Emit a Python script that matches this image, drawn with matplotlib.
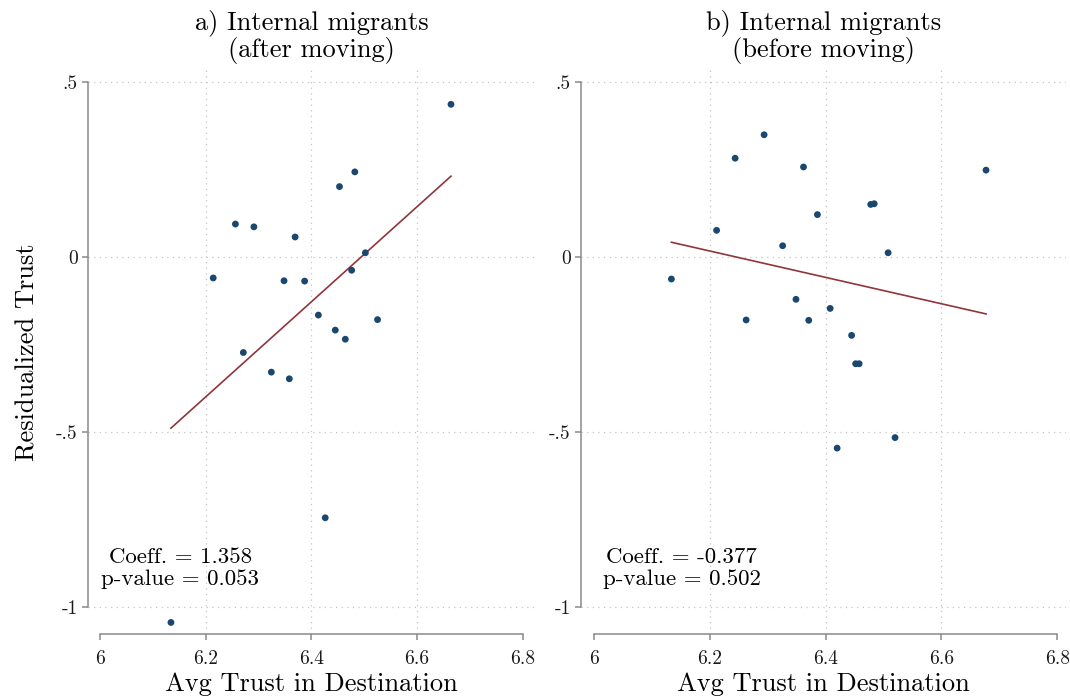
import numpy as np
import matplotlib
matplotlib.use("Agg")
import matplotlib.pyplot as plt

plt.rcParams['font.family'] = 'serif'
plt.rcParams['font.serif'] = ['cmr10', 'DejaVu Serif']
plt.rcParams['mathtext.fontset'] = 'cm'
plt.rcParams['axes.unicode_minus'] = False

# panel a) internal migrants, after moving
trust_after = [6.664, 6.482, 6.453, 6.256, 6.291, 6.369, 6.502, 6.214, 6.348, 6.387,
               6.476, 6.413, 6.525, 6.445, 6.464, 6.271, 6.324, 6.358, 6.426, 6.134]
resid_after = [0.435, 0.242, 0.200, 0.093, 0.085, 0.056, 0.011, -0.061, -0.069, -0.070,
               -0.039, -0.167, -0.180, -0.210, -0.236, -0.274, -0.330, -0.349, -0.746, -1.045]

# panel b) internal migrants, before moving
trust_before = [6.294, 6.244, 6.362, 6.677, 6.478, 6.484, 6.386, 6.212, 6.326, 6.508,
                6.134, 6.349, 6.408, 6.263, 6.371, 6.445, 6.452, 6.458, 6.520, 6.420]
resid_before = [0.348, 0.281, 0.256, 0.247, 0.149, 0.151, 0.120, 0.075, 0.031, 0.011,
                -0.064, -0.122, -0.148, -0.181, -0.182, -0.225, -0.306, -0.306, -0.517, -0.547]

titles = ['a) Internal migrants\n(after moving)', 'b) Internal migrants\n(before moving)']
coeffs = [1.358, -0.377]
intercepts = [-8.820, 2.3535]   # fitted line intercepts
pvalues = ['0.053', '0.502']

xticks = [6, 6.2, 6.4, 6.6, 6.8]
xticklabels = ['6', '6.2', '6.4', '6.6', '6.8']
yticks = [-1, -0.5, 0, 0.5]
yticklabels = ['-1', '-.5', '0', '.5']

navy = '#1a476f'
maroon = '#90353b'
axis_gray = '#8a8a8a'

W, H = 1070, 696
fig = plt.figure(figsize=(W / 100, H / 100), dpi=100)

# pixel boxes of the two plot regions (left, top, right, bottom)
boxes = [(88, 70, 535, 634), (581, 70, 1066, 634)]
xlims = [(5.977, 6.823), (5.978, 6.815)]

data = [(trust_after, resid_after), (trust_before, resid_before)]

for i, (x, y) in enumerate(data):
    l, t, r, b = boxes[i]
    ax = fig.add_axes([l / W, 1 - b / H, (r - l) / W, (b - t) / H])
    x = np.array(x)
    y = np.array(y)

    ax.set_xlim(*xlims[i])
    ax.set_ylim(-1.078, 0.533)

    # dotted grid, interior x ticks only
    for xt in xticks[1:-1]:
        ax.axvline(xt, color='#c4c4c4', lw=0.9, ls=(0, (1, 3.5)), zorder=0)
    for yt in yticks:
        ax.axhline(yt, color='#c4c4c4', lw=0.9, ls=(0, (1, 3.5)), zorder=0)

    ax.scatter(x, y, s=24, color=navy, edgecolors='none', zorder=3)

    xs = np.array([x.min(), x.max()])
    ax.plot(xs, intercepts[i] + coeffs[i] * xs, color=maroon, lw=1.2, zorder=2)

    ax.text(6.152, -0.89, 'Coeff. = %s\np-value = %s' % ('%.3f' % coeffs[i], pvalues[i]),
            ha='center', va='center', fontsize=16.5, linespacing=1.1)

    for s in ['top', 'right']:
        ax.spines[s].set_visible(False)
    ax.spines['left'].set_bounds(-1, 0.5)
    ax.spines['bottom'].set_bounds(6, 6.8)
    for s in ['left', 'bottom']:
        ax.spines[s].set_color(axis_gray)
        ax.spines[s].set_linewidth(1.1)

    ax.set_xticks(xticks)
    ax.set_xticklabels(xticklabels)
    ax.set_yticks(yticks)
    ax.set_yticklabels(yticklabels)
    ax.tick_params(axis='both', color=axis_gray, width=1.1, length=4.5,
                   labelsize=14, labelcolor='#1a1a1a')
    ax.tick_params(axis='x', pad=7)
    ax.tick_params(axis='y', pad=3)

    ax.set_xlabel('Avg Trust in Destination', fontsize=19, labelpad=3)
    if i == 0:
        ax.set_ylabel('Residualized Trust', fontsize=19, labelpad=12)
    ax.set_title(titles[i], fontsize=19, linespacing=1.1, pad=9)

fig.savefig('out.png', dpi=100)
